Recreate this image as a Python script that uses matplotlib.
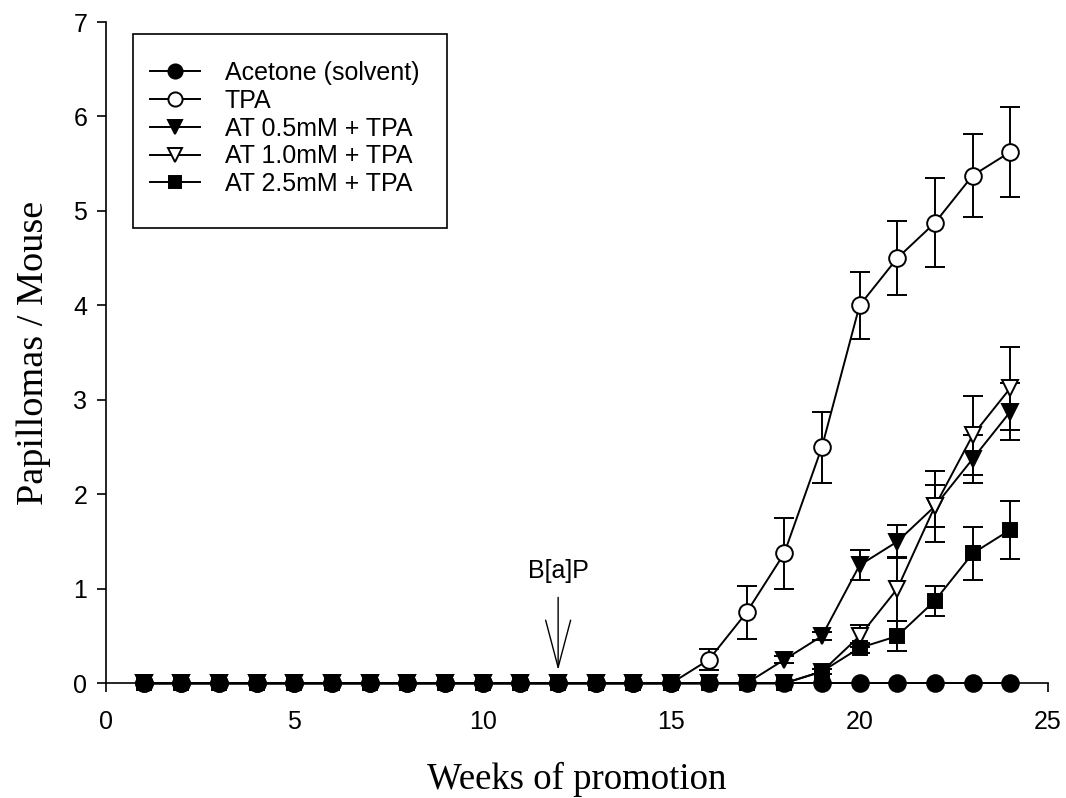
import numpy as np
import matplotlib.pyplot as plt
from matplotlib.patches import Rectangle

plt.rcParams['font.family'] = ['Liberation Sans', 'DejaVu Sans']

weeks = np.arange(1, 25)

acetone = [0] * 24
acetone_err = [0] * 24
tpa = [0] * 15 + [0.25, 0.75, 1.375, 2.5, 4.0, 4.5, 4.875, 5.375, 5.625]
tpa_err = [0] * 15 + [0.11, 0.28, 0.38, 0.375, 0.35, 0.39, 0.47, 0.44, 0.48]
at05 = [0] * 17 + [0.25, 0.5, 1.25, 1.5, 1.875, 2.375, 2.875]
at05_err = [0] * 17 + [0.04, 0.04, 0.16, 0.175, 0.22, 0.25, 0.3]
at10 = [0] * 18 + [0.125, 0.5, 1.0, 1.875, 2.625, 3.125]
at10_err = [0] * 18 + [0.03, 0.12, 0.34, 0.375, 0.42, 0.44]
at25 = [0] * 18 + [0.125, 0.375, 0.5, 0.875, 1.375, 1.625]
at25_err = [0] * 18 + [0.03, 0.05, 0.16, 0.16, 0.28, 0.31]

series = [
    ('Acetone (solvent)', acetone, acetone_err, 'o', 'black', 12),
    ('TPA', tpa, tpa_err, 'o', 'white', 12),
    ('AT 0.5mM + TPA', at05, at05_err, 'v', 'black', 12),
    ('AT 1.0mM + TPA', at10, at10_err, 'v', 'white', 12),
    ('AT 2.5mM + TPA', at25, at25_err, 's', 'black', 10.5),
]

fig = plt.figure(figsize=(10.66, 7.98), dpi=100)
ax = fig.add_axes([0.0994, 0.1437, 0.8837, 0.8287])

lw = 1.4
for label, y, err, mk, fc, ms in series:
    y = np.array(y, dtype=float)
    err = np.array(err, dtype=float)
    has = err > 0
    ax.errorbar(weeks[has], y[has], yerr=err[has], fmt='none', ecolor='black',
                elinewidth=lw, capsize=7.5, capthick=lw, clip_on=False, zorder=2)
    ax.plot(weeks, y, color='black', lw=lw, marker=mk, ms=ms, mfc=fc,
            mec='black', mew=lw, label=label, clip_on=False, zorder=3)

ax.set_xlim(0, 25)
ax.set_ylim(0, 7)
ax.set_xticks([0, 5, 10, 15, 20, 25])
ax.set_yticks(range(8))
ax.spines['top'].set_visible(False)
ax.spines['right'].set_visible(False)
for s in ('left', 'bottom'):
    ax.spines[s].set_linewidth(1.2)
ax.tick_params(direction='out', length=6.5, width=1.2, labelsize=18)
ax.tick_params(axis='x', pad=13)
ax.tick_params(axis='y', pad=7)

ax.set_xlabel('Weeks of promotion', family=['Liberation Serif'], fontsize=26.5, labelpad=20)
ax.set_ylabel('Papillomas / Mouse', family=['Liberation Serif'], fontsize=27.5, labelpad=16)

# initiation marker
ax.text(12, 1.11, 'B[a]P', ha='center', va='baseline', fontsize=18)
ax.annotate('', xy=(12, 0.14), xytext=(12, 0.91),
            arrowprops=dict(arrowstyle='->, head_length=1.7, head_width=0.45',
                            mutation_scale=20, color='black', lw=1.0,
                            shrinkA=0, shrinkB=0))

# legend box drawn on its own so the entries can sit high inside it
ax.add_patch(Rectangle((0.0287, 0.688), 0.3333, 0.294, transform=ax.transAxes,
                       fill=True, facecolor='white', edgecolor='black', lw=1.2,
                       zorder=4, clip_on=False))
leg = ax.legend(loc='upper left', bbox_to_anchor=(0.0467, 0.941), borderaxespad=0,
                fontsize=18, handlelength=2.0, handletextpad=1.0, labelspacing=0.15,
                borderpad=0, markerscale=0.85, frameon=False)
leg.set_zorder(5)

fig.savefig('out.png', dpi=100)
